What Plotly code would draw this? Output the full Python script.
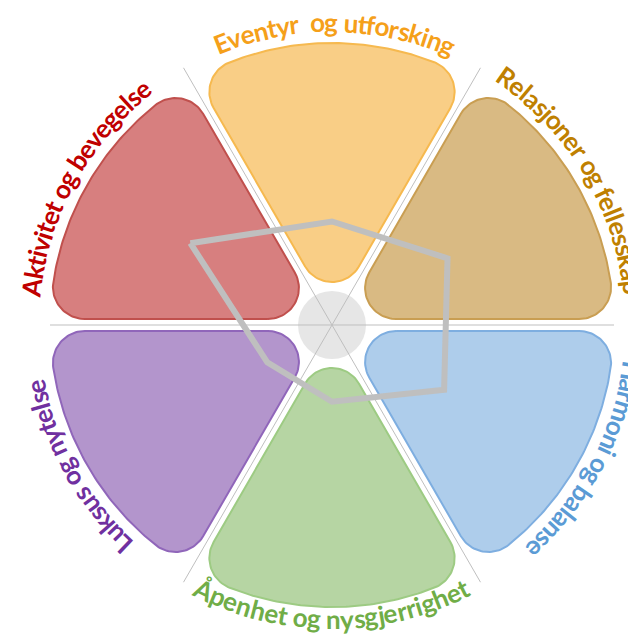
import math

import plotly.graph_objects as go

# categories, clockwise from the upper-left sector
categories = [
    "Aktivitet og bevegelse",
    "Eventyr og utforsking",
    "Relasjoner og fellesskap",
    "Harmoni og balanse",
    "Åpenhet og nysgjerrighet",
    "Luksus og nytelse",
]
# labels as printed round the wheel
labels = [
    "Aktivitet og bevegelse",
    "Eventyr  og utforsking",
    "Relasjoner og fellesskap",
    "Harmoni og balanse",
    "Åpenhet og nysgjerrighet",
    "Luksus og nytelse",
]
# profile scores (0-10 scale, 10 = outer edge of a sector)
scores = [5.8, 3.67, 4.73, 4.59, 2.72, 2.65]

fill_colors = ["#D77F7F", "#F9CE86", "#D9BA83", "#AECDEB", "#B6D5A3", "#B395CC"]
edge_colors = ["#C0504D", "#F6B94F", "#C99E52", "#7EAEE0", "#9DCB83", "#9066BA"]
text_colors = ["#C00000", "#F5A01A", "#BF8000", "#5B9BD5", "#70AD47", "#7030A0"]

W, H = 628, 635
CX, CY = 332, 325          # wheel centre in page pixels (from top-left)
R_OUT = 282                # sector outer radius (px)
GAP = 6                    # inset of a sector from the divider lines
R_TIP = 31                 # rounding at the inner tip
R_CORNER = 32              # rounding at the outer corners
PX_PER_UNIT = 28.2
FONT_SIZE = 26
ADVANCE = 25.4             # px per em used for letter spacing
LABEL_SHIFT = [1, -0.5, 1, 2, 0, -1]    # small nudges of the label arcs (deg)

# rough advance widths (em) of a bold sans
CHAR_W = {
    " ": 0.24, "i": 0.25, "j": 0.25, "l": 0.25, "f": 0.33, "t": 0.36, "r": 0.38,
    "s": 0.43, "c": 0.46, "a": 0.51, "e": 0.53, "g": 0.50, "k": 0.52, "v": 0.51,
    "y": 0.51, "b": 0.565, "d": 0.565, "h": 0.565, "n": 0.565, "o": 0.565,
    "p": 0.565, "u": 0.565, "m": 0.86, "A": 0.67, "E": 0.55, "H": 0.72,
    "L": 0.48, "R": 0.60, "Å": 0.67,
}


def arc(cx, cy, r, a0, a1, n=30):
    return [(cx + r * math.cos(math.radians(a0 + (a1 - a0) * k / n)),
             cy + r * math.sin(math.radians(a0 + (a1 - a0) * k / n))) for k in range(n + 1)]


def sector_outline(theta_c):
    """Rounded 60 degree wedge, centred on theta_c (degrees, maths convention)."""
    tip_y = 2 * (GAP + R_TIP)
    pts = arc(0, tip_y, R_TIP, 210, 330)
    ux, uy = math.cos(math.radians(60)), math.sin(math.radians(60))
    nx, ny = -uy, ux
    t = math.sqrt((R_OUT - R_CORNER) ** 2 - (GAP + R_CORNER) ** 2)
    ccx, ccy = t * ux + (GAP + R_CORNER) * nx, t * uy + (GAP + R_CORNER) * ny
    phi = math.degrees(math.atan2(ccy, ccx))
    pts += arc(ccx, ccy, R_CORNER, -30, phi)
    pts += arc(0, 0, R_OUT, phi, 180 - phi, 60)
    pts += arc(-ccx, ccy, R_CORNER, 180 - phi, 210)
    pts.append(pts[0])
    rot = math.radians(theta_c - 90)
    c, s = math.cos(rot), math.sin(rot)
    xs = [x * c - y * s for x, y in pts]
    ys = [x * s + y * c for x, y in pts]
    return xs, ys


def label_annotations(text, theta_c, color, flip):
    r = 294 if flip else 303
    ws = [CHAR_W.get(ch, 0.53) * ADVANCE for ch in text]
    pos = -sum(ws) / 2
    anns = []
    for ch, w in zip(text, ws):
        mid = pos + w / 2
        pos += w
        if ch == " ":
            continue
        d = math.degrees(mid / r)
        th = theta_c + d if flip else theta_c - d
        ang = (270 - th) if flip else (90 - th)
        ang = (ang + 180) % 360 - 180
        px = CX + r * math.cos(math.radians(th))
        py = CY - r * math.sin(math.radians(th))
        anns.append(dict(
            x=px / W, y=1 - py / H, xref="paper", yref="paper",
            text=ch, showarrow=False, textangle=ang,
            xanchor="center", yanchor="middle",
            font=dict(family="Lato", size=FONT_SIZE, color=color, weight="bold"),
        ))
    return anns


fig = go.Figure()

annotations = []
for i, cat in enumerate(categories):
    theta_c = 150 - 60 * i
    xs, ys = sector_outline(theta_c)
    fig.add_trace(go.Scatter(
        x=xs, y=ys, mode="lines", fill="toself",
        fillcolor=fill_colors[i], line=dict(color=edge_colors[i], width=2),
        hoverinfo="skip", showlegend=False, name=cat,
    ))
    flip = (theta_c % 360) == 270
    annotations += label_annotations(labels[i], theta_c + LABEL_SHIFT[i], text_colors[i], flip)

# divider lines
lx, ly = [], []
for ang, length in [(0, 282), (60, 297), (120, 297)]:
    a = math.radians(ang)
    lx += [-length * math.cos(a), length * math.cos(a), None]
    ly += [-length * math.sin(a), length * math.sin(a), None]
fig.add_trace(go.Scatter(x=lx, y=ly, mode="lines", line=dict(color="#BFBFBF", width=1),
                         hoverinfo="skip", showlegend=False))

# profile line
fig.add_trace(go.Scatterpolar(
    r=scores + scores[:1], theta=categories + categories[:1],
    mode="lines", line=dict(color="#BFBFBF", width=6),
    hoverinfo="skip", showlegend=False,
))

fig.add_shape(type="circle", xref="x", yref="y", x0=-34, y0=-34, x1=34, y1=34,
              fillcolor="#E6E6E6", line=dict(width=0), layer="below")

fig.update_layout(
    width=W, height=H,
    margin=dict(l=0, r=0, t=0, b=0),
    paper_bgcolor="white", plot_bgcolor="white",
    showlegend=False,
    xaxis=dict(range=[-CX, W - CX], domain=[0, 1], visible=False, fixedrange=True),
    yaxis=dict(range=[CY - H, CY], domain=[0, 1], visible=False, fixedrange=True),
    polar=dict(
        domain=dict(x=[(2 * CX - W) / W, 1], y=[0, 2 * (H - CY) / H]),
        bgcolor="rgba(0,0,0,0)",
        angularaxis=dict(visible=False, rotation=150, direction="clockwise",
                         categoryorder="array", categoryarray=categories),
        radialaxis=dict(visible=False, range=[0, (W - CX) / PX_PER_UNIT]),
    ),
    annotations=annotations,
)

fig.write_html("out.html", config={"displayModeBar": False},
               post_script="document.body.style.margin = '0';")
